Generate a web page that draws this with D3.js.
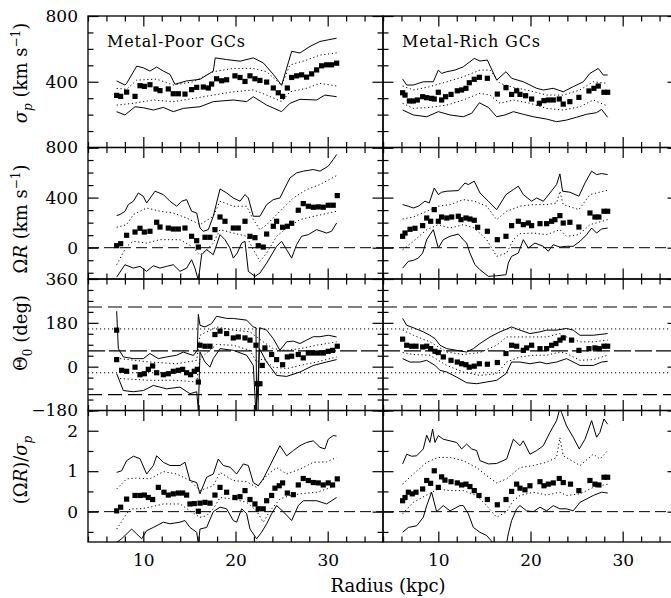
<!DOCTYPE html>
<html><head><meta charset="utf-8">
<script src="https://cdn.jsdelivr.net/npm/d3@7"></script>
<style>
body{margin:0;background:#fff;}
svg{display:block;}
text{font-family:"DejaVu Serif",serif;fill:#000;}
</style>
</head><body><svg id="c" width="671" height="598"></svg>
<script>
// ---------------- DATA ----------------
const panelTitles = ["Metal-Poor GCs", "Metal-Rich GCs"];
const yTitles = ["σp", "ΩR", "Θ0", "ratio"];
const xTickLabels = [10, 20, 30];
const yLabelRows = [[400, 800], [0, 400, 800], [-180, 0, 180, 360], [0, 1, 2]];
const thetaRef = [65];          // kinematic axis (deg)
const thetaDashed = [245, -115]; // axis ±180
const thetaDotted = [155, -25];  // axis ±90

// Row 1: sigma_p (km/s)
const mpSigma = [[7.11,317],[7.54,311],[8.19,337],[9.10,311],[9.64,376],[10.11,372],[10.72,382],[11.38,356],[11.81,346],[12.71,356],[13.25,327],[13.8,327],[14.52,325],[15.24,352],[15.79,366],[16.51,368],[17.05,362],[17.41,386],[17.95,418],[18.5,406],[19.04,412],[19.94,436],[20.49,426],[21.03,402],[21.57,436],[22.11,418],[22.65,408],[23.38,398],[24.10,362],[24.64,333],[25.11,311],[25.62,362],[26.09,426],[26.63,436],[27.17,442],[27.71,428],[28.26,448],[28.8,472],[29.34,497],[29.88,503],[30.42,503],[30.97,513]];
const mpSigHi95 = [[7.11,405],[8.01,380],[8.19,390],[9.28,495],[10.0,485],[10.72,465],[11.45,490],[12.17,465],[12.89,445],[13.43,385],[14.7,405],[16.15,415],[17.59,465],[17.8,545],[19.04,535],[20.49,525],[21.93,545],[23.01,515],[24.10,445],[25.0,378],[26.09,585],[26.99,575],[28.08,615],[29.16,645],[30.06,655],[30.97,665]];
const mpSigLo95 = [[7.11,218],[8.01,198],[9.10,248],[10.0,242],[11.09,228],[12.17,244],[13.25,218],[14.34,238],[16.15,248],[17.59,279],[19.76,289],[21.21,279],[21.93,309],[23.38,258],[25.0,218],[25.91,269],[26.99,293],[28.8,289],[29.7,319],[30.97,309]];
const mpSigHi68 = [[7.11,360],[8.19,354],[9.28,410],[11.45,416],[13.25,380],[15.42,400],[17.59,461],[19.76,481],[21.93,481],[23.38,461],[25.0,380],[25.91,502],[27.71,532],[29.16,562],[30.97,576]];
const mpSigLo68 = [[7.11,258],[8.92,269],[11.09,289],[13.25,279],[16.15,305],[17.59,319],[19.76,339],[21.93,350],[23.38,319],[25.0,279],[25.91,339],[27.71,360],[29.16,390],[30.97,374]];

const mrSigma = [[6.13,333],[6.39,319],[6.86,283],[7.29,283],[7.72,289],[8.30,309],[8.74,303],[9.27,299],[9.56,295],[10.0,336],[10.36,289],[10.79,309],[11.38,323],[12.06,345],[12.53,350],[13.0,360],[13.36,394],[13.9,415],[14.45,427],[15.32,421],[16.4,325],[17.34,364],[17.95,323],[18.5,345],[18.86,323],[19.47,315],[20.12,295],[20.96,269],[21.46,285],[21.93,289],[22.47,289],[23.12,295],[23.55,264],[24.27,279],[25.25,305],[26.34,344],[26.88,360],[27.35,374],[27.97,336],[28.37,336]];
const mrSigHi95 = [[6.13,416],[6.57,380],[7.29,380],[8.37,400],[9.46,400],[10.0,471],[10.36,451],[10.92,461],[11.81,471],[12.71,491],[13.9,542],[14.52,526],[15.32,532],[16.33,410],[17.34,461],[17.95,421],[19.22,400],[20.67,360],[21.39,350],[22.47,360],[23.55,339],[24.63,370],[25.73,400],[26.45,451],[27.35,481],[27.89,441],[28.37,441]];
const mrSigLo95 = [[6.13,228],[7.29,198],[8.74,187],[10.0,218],[11.27,198],[12.71,187],[13.62,208],[14.45,272],[15.43,244],[16.33,187],[17.23,198],[18.14,218],[19.22,202],[20.3,187],[21.75,173],[22.83,157],[23.91,167],[24.99,184],[26.09,202],[27.17,212],[27.71,232],[28.37,184]];
const mrSigHi68 = [[6.13,374],[7.29,350],[9.09,370],[10.92,400],[12.71,430],[14.52,471],[15.61,471],[16.69,390],[18.14,366],[19.94,345],[21.75,319],[23.55,319],[25.37,350],[26.81,400],[28.37,390]];
const mrSigLo68 = [[6.13,269],[7.29,238],[9.09,244],[10.92,258],[12.71,289],[14.52,330],[15.61,319],[16.69,269],[18.14,289],[19.94,269],[21.75,238],[23.55,228],[25.37,248],[26.81,289],[28.37,252]];

// Row 2: Omega R (km/s)
const mpOmega = [[7.11,16],[7.54,32],[8.19,99],[9.10,125],[9.64,155],[10.11,125],[10.72,131],[11.45,203],[11.81,165],[12.71,157],[13.25,149],[13.8,149],[14.52,157],[15.24,91],[15.79,56],[15.97,5],[16.69,83],[17.23,83],[17.77,144],[18.32,245],[18.86,211],[19.76,157],[20.3,157],[21.03,211],[21.57,91],[22.11,80],[22.47,16],[23.01,5],[23.38,109],[24.10,171],[24.46,211],[25.11,163],[25.62,171],[26.09,195],[26.81,299],[27.35,352],[27.9,331],[28.44,323],[28.98,326],[29.52,323],[30.06,339],[30.6,339],[31.04,416]];
const mpOmHi95 = [[7.11,256],[7.47,265],[8.01,290],[8.37,344],[8.92,371],[9.46,437],[10.0,410],[10.36,357],[11.27,451],[12.17,424],[12.89,371],[13.62,331],[14.16,371],[14.7,384],[15.24,291],[15.79,277],[16.15,157],[16.51,131],[17.05,144],[17.59,251],[18.32,469],[19.04,437],[19.76,397],[20.49,371],[21.03,424],[21.39,397],[21.93,251],[22.65,251],[23.38,344],[24.10,384],[24.82,397],[25.36,477],[25.91,557],[26.63,597],[27.35,611],[28.44,624],[29.16,611],[30.06,651],[30.6,704],[30.97,744]];
const mpOmLo95 = [[7.11,-235],[8.01,-136],[8.92,-163],[9.64,-149],[10.36,-189],[11.09,-144],[11.81,-163],[12.53,-149],[13.25,-136],[13.98,-189],[14.7,-163],[15.24,-96],[15.6,-163],[15.97,-260],[16.33,-56],[16.87,-16],[17.59,-56],[18.32,104],[18.86,64],[19.40,-3],[19.76,-83],[20.19,-43],[20.67,37],[21.03,51],[21.39,-189],[22.11,-229],[22.65,-203],[23.38,-123],[24.46,11],[25.0,51],[25.55,-16],[26.09,-83],[26.63,24],[27.17,91],[27.9,104],[28.8,144],[29.88,117],[30.42,131],[30.97,197]];
const mpOmHi68 = [[7.11,163],[8.19,184],[8.92,264],[10.36,317],[11.81,291],[13.25,277],[14.7,237],[16.15,184],[17.59,251],[18.32,371],[19.76,331],[21.21,331],[21.93,224],[22.65,144],[23.38,184],[24.82,291],[26.27,397],[27.71,464],[29.16,504],[30.97,576]];
const mpOmLo68 = [[7.11,-136],[8.19,11],[8.92,51],[10.36,37],[11.81,64],[13.98,64],[15.24,11],[16.15,-56],[16.87,-16],[17.59,37],[18.32,144],[19.76,117],[21.21,91],[21.93,-16],[22.65,-109],[23.38,-43],[24.46,91],[25.55,157],[26.99,224],[28.8,256],[30.97,291]];

const mrOmega = [[6.13,91],[6.39,117],[6.93,147],[7.47,155],[8.30,176],[8.74,237],[9.17,211],[9.56,304],[10.0,211],[10.36,245],[10.92,237],[11.45,245],[12.17,251],[12.46,224],[13.0,237],[13.43,229],[13.9,219],[14.27,163],[15.32,131],[16.4,64],[17.34,91],[17.95,176],[18.68,211],[19.22,184],[19.76,197],[20.12,176],[21.03,192],[21.75,192],[22.29,211],[22.65,224],[23.19,256],[23.55,197],[24.27,203],[25.25,165],[26.45,277],[26.99,245],[27.42,245],[27.97,291],[28.37,291]];
const mrOmHi95 = [[6.13,344],[6.75,331],[7.29,317],[7.83,331],[8.55,371],[9.02,357],[9.56,477],[10.0,424],[10.36,443],[10.92,451],[12.17,456],[12.89,517],[13.25,504],[13.9,531],[14.52,437],[15.43,371],[16.33,304],[17.34,424],[18.14,464],[18.68,491],[19.22,424],[20.12,371],[20.67,397],[21.39,371],[22.11,437],[22.83,504],[23.19,589],[23.48,451],[24.27,443],[25.25,411],[25.91,517],[26.63,611],[27.17,584],[27.71,592],[28.37,584]];
const mrOmLo95 = [[6.13,-163],[6.75,-109],[7.29,-101],[7.83,-83],[8.30,-43],[8.74,64],[9.09,104],[9.46,144],[10.0,-3],[10.54,64],[11.27,91],[12.17,109],[12.71,64],[13.07,37],[13.43,-43],[13.98,-136],[14.52,-176],[15.43,-229],[16.33,-224],[17.34,-216],[17.59,-123],[17.95,-69],[18.68,-43],[19.22,64],[19.76,-3],[20.48,37],[21.39,11],[21.93,-29],[22.47,24],[23.19,5],[23.91,11],[24.63,11],[25.37,51],[26.09,104],[26.63,157],[27.17,117],[27.71,149],[28.37,157]];
const mrOmHi68 = [[6.13,229],[7.29,245],[8.74,291],[10.0,331],[11.27,344],[12.71,384],[13.9,371],[15.25,331],[16.33,224],[17.41,291],[18.86,331],[20.3,344],[21.75,344],[22.83,357],[23.19,451],[23.55,344],[25.25,304],[26.45,424],[28.37,459]];
const mrOmLo68 = [[6.13,-16],[7.29,51],[8.74,144],[10.0,184],[11.27,157],[12.71,184],[13.9,157],[15.25,64],[16.33,-69],[17.41,-43],[18.14,64],[18.86,112],[20.3,117],[21.75,104],[23.19,144],[23.91,91],[25.25,104],[26.45,184],[28.37,224]];

// Row 3: Theta_0 (deg)
const mpTheta = [[7.11,150],[7.11,29],[7.65,-15],[8.19,-19],[9.10,-2],[9.64,-33],[10.11,-29],[10.54,-11],[11.01,3],[11.45,-25],[12.17,-33],[12.71,-29],[13.25,-19],[13.8,-15],[14.27,-11],[14.7,-25],[15.13,-33],[15.53,-19],[15.86,-11],[15.97,-63],[16.15,88],[16.69,84],[17.23,84],[17.77,132],[18.32,146],[19.04,136],[19.76,118],[20.3,122],[21.03,118],[21.57,109],[22.22,88],[22.37,-70],[22.65,-70],[22.9,5],[23.19,77],[23.92,50],[24.46,29],[25.11,8],[25.62,40],[26.09,43],[26.81,50],[27.35,36],[27.9,56],[28.44,56],[28.98,56],[29.52,56],[30.06,63],[30.53,67],[31.04,84]];
const mpThHi95 = [[7.11,228],[7.29,74],[7.83,40],[8.92,33],[10.0,33],[10.72,54],[11.63,33],[12.53,40],[13.62,47],[14.34,60],[15.42,46],[15.86,67],[15.97,215],[16.15,170],[16.69,163],[17.41,177],[17.95,207],[19.04,198],[19.76,198],[21.21,191],[21.93,163],[22.22,160],[22.3,-180],[22.45,-180],[22.6,160],[23.38,150],[24.10,115],[24.82,67],[25.55,102],[26.27,105],[26.99,95],[27.71,109],[28.44,123],[29.16,123],[30.06,129],[30.97,122]];
const mpThLo95 = [[7.11,-29],[7.47,-63],[7.83,-98],[8.92,-103],[10.0,-98],[11.09,-77],[12.53,-91],[13.98,-84],[15.06,-111],[15.79,-103],[15.97,-180],[16.15,60],[16.69,19],[17.23,-2],[17.59,33],[18.32,74],[19.76,67],[21.21,47],[21.93,5],[22.2,-180],[22.37,-120],[22.6,74],[23.38,19],[24.46,-36],[25.55,-40],[26.99,-22],[28.44,5],[29.88,19],[30.97,29]];
const mpThHi68 = [[7.47,33],[10.72,19],[13.62,12],[15.79,26],[16.15,129],[17.95,163],[19.76,150],[21.57,143],[22.29,122],[23.01,102],[24.10,74],[25.55,67],[26.99,74],[28.8,88],[30.97,102]];
const mpThLo68 = [[7.47,-49],[10.72,-56],[13.62,-56],[15.79,-63],[16.15,33],[17.95,91],[19.76,88],[21.57,67],[22.29,19],[23.01,33],[24.10,-2],[25.55,-8],[26.99,5],[28.8,19],[30.97,40]];

const mrTheta = [[6.13,113],[6.57,88],[7.11,84],[7.58,84],[8.30,81],[8.74,84],[9.17,74],[9.64,63],[10.0,58],[10.54,40],[11.38,26],[12.06,19],[12.53,12],[13.0,8],[13.36,-2],[13.9,2],[14.45,12],[15.32,10],[16.4,17],[17.34,54],[17.95,88],[18.5,84],[19.22,67],[19.58,77],[20.12,88],[21.03,74],[21.75,74],[22.29,88],[22.76,95],[23.19,109],[23.55,118],[24.45,109],[25.25,67],[26.34,74],[26.99,77],[27.46,74],[27.97,84],[28.37,84]];
const mrThHi95 = [[6.13,198],[6.57,170],[7.29,160],[8.37,143],[9.09,129],[9.64,115],[10.18,88],[10.92,74],[11.99,67],[13.07,60],[13.8,74],[14.52,95],[15.61,122],[16.69,143],[17.95,163],[18.86,150],[19.94,136],[21.03,143],[21.75,150],[22.83,150],[23.91,157],[24.63,150],[25.37,129],[26.81,129],[28.37,136]];
const mrThLo95 = [[6.13,33],[6.93,19],[8.01,19],[8.74,26],[9.64,5],[10.18,-15],[10.92,-22],[11.99,-43],[13.07,-66],[14.16,-70],[15.25,-63],[16.33,-56],[17.34,-29],[17.95,19],[18.86,19],[19.94,12],[21.03,19],[21.75,12],[22.83,19],[23.91,33],[25.37,5],[26.81,5],[27.71,19],[28.37,22]];
const mrThHi68 = [[6.13,150],[7.29,129],[9.09,102],[10.92,60],[12.71,50],[14.52,58],[16.33,88],[17.41,122],[18.86,122],[20.3,122],[21.75,122],[23.19,136],[23.91,122],[25.37,102],[26.81,102],[28.37,109]];
const mrThLo68 = [[6.13,58],[7.29,50],[9.09,47],[10.92,5],[12.71,-22],[14.52,-36],[16.33,-29],[17.41,19],[18.86,40],[20.3,47],[21.75,47],[23.19,60],[23.91,54],[25.37,26],[26.81,29],[28.37,47]];

// Row 4: (Omega R)/sigma_p
const mpRatio = [[7.11,0.02],[7.54,0.11],[8.19,0.31],[9.10,0.40],[9.64,0.40],[10.11,0.41],[10.54,0.35],[11.01,0.30],[11.63,0.60],[12.24,0.48],[12.71,0.41],[13.25,0.44],[13.8,0.46],[14.27,0.46],[14.7,0.41],[15.06,0.19],[15.53,0.20],[15.97,0.01],[16.15,0.21],[16.69,0.23],[17.23,0.21],[17.77,0.41],[18.32,0.60],[19.04,0.48],[19.94,0.35],[20.49,0.37],[21.03,0.52],[21.57,0.30],[22.11,0.19],[22.47,0.07],[23.01,0.07],[23.38,0.27],[23.92,0.40],[24.28,0.58],[24.75,0.64],[25.11,0.71],[25.62,0.46],[26.27,0.42],[26.81,0.66],[27.35,0.82],[27.9,0.77],[28.44,0.72],[28.98,0.71],[29.52,0.66],[30.06,0.71],[30.53,0.66],[31.04,0.81]];
const mpRaHi95 = [[7.11,0.97],[7.65,1.01],[8.19,1.26],[8.92,1.37],[9.64,1.31],[10.36,0.93],[11.09,1.14],[11.45,1.38],[12.17,1.22],[12.89,1.14],[13.98,1.14],[14.52,1.22],[15.06,0.77],[15.79,0.72],[16.15,0.44],[16.87,0.85],[17.59,0.93],[18.13,1.30],[18.68,1.14],[19.4,1.10],[20.12,0.93],[20.85,1.18],[21.39,1.14],[21.93,0.72],[22.47,0.64],[23.01,0.81],[23.74,1.14],[24.82,1.63],[25.55,1.38],[26.27,1.51],[26.99,1.63],[27.71,1.71],[28.44,1.75],[29.16,1.59],[29.7,1.55],[30.06,1.79],[30.6,1.88],[30.97,1.87]];
const mpRaLo95 = [[7.11,-0.76],[7.65,-0.67],[8.74,-0.43],[9.28,-0.55],[9.82,-0.67],[10.36,-0.47],[11.09,-0.39],[12.17,-0.26],[12.89,-0.30],[13.98,-0.26],[14.52,-0.22],[15.06,-0.39],[15.79,-0.51],[15.97,-0.8],[16.15,-0.43],[16.87,-0.39],[17.59,0.0],[18.32,0.11],[19.04,0.07],[19.76,-0.22],[20.12,-0.26],[20.67,0.07],[21.21,-0.05],[21.57,-0.43],[22.29,-0.67],[22.83,-0.51],[23.38,-0.30],[23.92,-0.05],[24.46,0.15],[25.18,0.0],[26.09,-0.22],[26.81,0.15],[27.35,0.27],[28.8,0.27],[29.88,0.19],[30.97,0.35]];
const mpRaHi68 = [[7.11,0.56],[8.19,0.81],[9.28,0.83],[10.72,0.81],[12.17,0.99],[13.62,0.93],[15.06,0.77],[16.15,0.52],[17.59,0.64],[18.32,0.97],[19.76,0.77],[21.21,0.74],[22.29,0.60],[23.38,0.89],[24.46,1.09],[25.55,0.93],[26.99,1.05],[28.44,1.22],[29.88,1.23],[30.97,1.34]];
const mpRaLo68 = [[7.11,-0.43],[7.83,-0.18],[8.56,0.07],[9.64,0.07],[10.72,0.11],[12.17,0.19],[13.98,0.19],[15.06,0.02],[16.15,-0.14],[16.87,-0.10],[17.59,0.07],[18.32,0.35],[19.76,0.31],[21.21,0.23],[22.29,0.02],[23.01,-0.26],[23.74,0.02],[24.82,0.31],[25.91,0.40],[26.99,0.44],[28.8,0.48],[30.97,0.64]];

const mrRatio = [[6.13,0.27],[6.39,0.35],[6.75,0.48],[7.18,0.44],[7.58,0.48],[8.30,0.56],[8.74,0.77],[9.17,0.70],[9.56,1.01],[10.0,0.60],[10.36,0.86],[10.72,0.78],[11.38,0.74],[12.06,0.71],[12.53,0.66],[13.0,0.68],[13.43,0.62],[13.9,0.52],[14.41,0.40],[15.32,0.30],[16.4,0.17],[17.34,0.30],[17.95,0.50],[18.5,0.68],[18.86,0.58],[19.4,0.54],[19.94,0.64],[21.03,0.74],[21.46,0.64],[21.93,0.68],[22.47,0.71],[23.12,0.82],[23.55,0.72],[24.34,0.68],[25.25,0.52],[26.45,0.77],[26.99,0.68],[27.42,0.66],[27.97,0.85],[28.37,0.85]];
const mrRaHi95 = [[6.13,1.18],[6.57,1.42],[7.11,1.37],[7.65,1.38],[8.37,1.55],[8.74,1.89],[9.09,1.71],[9.38,2.04],[9.64,1.71],[10.0,1.88],[10.54,1.79],[11.27,1.75],[11.99,1.71],[12.53,1.55],[13.07,1.67],[13.62,1.55],[14.16,1.51],[14.52,1.26],[15.43,1.18],[16.33,1.19],[17.41,1.30],[18.14,1.79],[18.86,1.63],[19.22,1.75],[19.94,1.42],[20.67,1.51],[21.39,1.63],[22.11,1.96],[22.83,2.25],[23.19,2.55],[23.37,2.45],[23.91,2.12],[24.63,1.84],[25.29,1.55],[25.91,1.79],[26.63,2.25],[27.17,1.84],[27.53,1.96],[27.97,2.29],[28.37,2.16]];
const mrRaLo95 = [[6.13,-0.51],[6.75,-0.39],[7.65,-0.35],[8.37,-0.14],[8.74,0.15],[9.27,0.48],[9.82,0.0],[10.54,0.15],[11.27,0.02],[12.35,0.15],[12.71,0.15],[13.25,-0.05],[13.8,-0.39],[14.52,-0.51],[15.25,-0.59],[15.97,-0.78],[17.41,-0.78],[17.59,-0.55],[17.95,-0.22],[18.5,0.07],[18.86,0.15],[19.58,0.02],[20.3,0.0],[21.03,0.11],[21.75,0.02],[22.47,0.15],[23.19,0.07],[23.91,0.07],[24.63,0.02],[25.37,0.23],[26.81,0.40],[27.71,0.48],[28.37,0.46]];
const mrRaHi68 = [[6.13,0.68],[7.29,0.93],[8.74,1.22],[10.0,1.34],[11.27,1.34],[12.71,1.26],[14.16,1.09],[15.25,0.89],[16.33,0.71],[17.41,0.81],[18.86,1.09],[20.3,1.14],[21.75,1.22],[22.83,1.34],[23.19,1.83],[23.55,1.38],[25.37,1.14],[26.81,1.42],[27.53,1.30],[28.37,1.51]];
const mrRaLo68 = [[6.13,-0.05],[7.29,0.23],[8.74,0.41],[10.0,0.56],[11.27,0.52],[12.71,0.52],[14.16,0.40],[15.25,0.15],[16.33,-0.14],[17.41,0.0],[18.14,0.27],[18.86,0.40],[20.3,0.48],[21.75,0.41],[23.19,0.48],[23.91,0.40],[25.37,0.44],[26.81,0.60],[28.37,0.68]];

// ---------------- LAYOUT ----------------
const svg = d3.select("#c");
const colX = [[88, 383], [383, 678]];
const rowTop = [16, 147.5, 279, 410.5];
const rowH = 131.5;
const xDomain = [4, 36];
const rowCfg = [
  {domain: [0, 800], minor: 100, major: 400},
  {domain: [-250, 800], minor: 100, major: 400},
  {domain: [-180, 360], minor: 45, major: 180},
  {domain: [-0.75, 2.5], minor: 0.5, major: 1}
];
const panels = [
  [{sq: mpSigma, hi95: mpSigHi95, lo95: mpSigLo95, hi68: mpSigHi68, lo68: mpSigLo68},
   {sq: mrSigma, hi95: mrSigHi95, lo95: mrSigLo95, hi68: mrSigHi68, lo68: mrSigLo68}],
  [{sq: mpOmega, hi95: mpOmHi95, lo95: mpOmLo95, hi68: mpOmHi68, lo68: mpOmLo68},
   {sq: mrOmega, hi95: mrOmHi95, lo95: mrOmLo95, hi68: mrOmHi68, lo68: mrOmLo68}],
  [{sq: mpTheta, hi95: mpThHi95, lo95: mpThLo95, hi68: mpThHi68, lo68: mpThLo68},
   {sq: mrTheta, hi95: mrThHi95, lo95: mrThLo95, hi68: mrThHi68, lo68: mrThLo68}],
  [{sq: mpRatio, hi95: mpRaHi95, lo95: mpRaLo95, hi68: mpRaHi68, lo68: mpRaLo68},
   {sq: mrRatio, hi95: mrRaHi95, lo95: mrRaLo95, hi68: mrRaHi68, lo68: mrRaLo68}]
];

const defs = svg.append("defs");
const isMajor = (v, m) => Math.abs(v / m - Math.round(v / m)) < 1e-6;

for (let r = 0; r < 4; r++) {
  for (let c = 0; c < 2; c++) {
    const cfg = rowCfg[r];
    const x0 = colX[c][0], x1 = colX[c][1];
    const y0 = rowTop[r], y1 = rowTop[r] + rowH;
    const x = d3.scaleLinear().domain(xDomain).range([x0, x1]);
    const y = d3.scaleLinear().domain(cfg.domain).range([y1, y0]);
    const id = "clip" + r + c;
    defs.append("clipPath").attr("id", id).append("rect")
      .attr("x", x0).attr("y", y0).attr("width", x1 - x0).attr("height", rowH);
    const g = svg.append("g");
    const gc = g.append("g").attr("clip-path", "url(#" + id + ")");

    // reference lines
    const hline = (v, dash, w) => gc.append("line")
      .attr("x1", x0).attr("x2", x1).attr("y1", y(v)).attr("y2", y(v))
      .attr("stroke", "#000").attr("stroke-width", w || 1)
      .attr("stroke-dasharray", dash);
    if (r === 1 || r === 3) hline(0, "11,5", 1);
    if (r === 2) {
      thetaDashed.forEach(v => hline(v, "14,6", 1.1));
      thetaRef.forEach(v => hline(v, "17,4", 1.1));
      thetaDotted.forEach(v => hline(v, "1.2,2.8", 1));
    }

    const p = panels[r][c];
    const line = d3.line().x(d => x(d[0])).y(d => y(d[1]));
    [["hi95", null], ["lo95", null], ["hi68", "1.2,2.6"], ["lo68", "1.2,2.6"]].forEach(([k, dash]) => {
      gc.append("path").attr("d", line(p[k])).attr("fill", "none")
        .attr("stroke", "#000").attr("stroke-width", 1)
        .attr("stroke-dasharray", dash);
    });
    gc.selectAll("rect.sq").data(p.sq).join("rect").attr("class", "sq")
      .attr("x", d => x(d[0]) - 2.6).attr("y", d => y(d[1]) - 2.6)
      .attr("width", 5.2).attr("height", 5.2).attr("fill", "#000");

    // frame
    g.append("rect").attr("x", x0).attr("y", y0).attr("width", x1 - x0).attr("height", rowH)
      .attr("fill", "none").attr("stroke", "#000").attr("stroke-width", 1.3);

    // ticks via d3 axes (inward)
    const xt = d3.range(4, 36.01, 2);
    const xMinor = xt.filter(v => !isMajor(v, 10)), xMajor = xt.filter(v => isMajor(v, 10));
    const yt = d3.range(Math.ceil(cfg.domain[0] / cfg.minor) * cfg.minor, cfg.domain[1] + 1e-9, cfg.minor);
    const yMinor = yt.filter(v => !isMajor(v, cfg.major)), yMajor = yt.filter(v => isMajor(v, cfg.major));
    const addAxis = (axis, tr) => {
      const a = g.append("g").attr("transform", tr).call(axis);
      a.select(".domain").remove();
      a.selectAll("text").remove();
      a.selectAll("line").attr("stroke-width", 1.2);
    };
    [[xMinor, 5.5], [xMajor, 10.5]].forEach(([vals, len]) => {
      addAxis(d3.axisBottom(x).tickValues(vals).tickSize(-len), `translate(0,${y1})`);
      addAxis(d3.axisTop(x).tickValues(vals).tickSize(-len), `translate(0,${y0})`);
    });
    [[yMinor, 5.5], [yMajor, 10.5]].forEach(([vals, len]) => {
      addAxis(d3.axisLeft(y).tickValues(vals).tickSize(-len), `translate(${x0},0)`);
      addAxis(d3.axisRight(y).tickValues(vals).tickSize(-len), `translate(${x1},0)`);
    });

    // labels
    if (c === 0) {
      const ya = g.append("g").attr("transform", `translate(${x0},0)`)
        .call(d3.axisLeft(y).tickValues(yLabelRows[r]).tickSize(0).tickPadding(10)
          .tickFormat(r === 3 ? d3.format("d") : d3.format("d")));
      ya.select(".domain").remove();
      ya.selectAll("text").attr("font-size", 17).attr("font-family", "DejaVu Serif");
    }
    if (r === 3) {
      const xa = g.append("g").attr("transform", `translate(0,${y1})`)
        .call(d3.axisBottom(x).tickValues(xTickLabels).tickSize(0).tickPadding(12));
      xa.select(".domain").remove();
      xa.selectAll("text").attr("font-size", 17).attr("font-family", "DejaVu Serif");
    }
    if (r === 0) {
      svg.append("text").attr("x", x0 + 19).attr("y", 47).attr("font-size", 16)
        .attr("textLength", 138).attr("lengthAdjust", "spacing")
        .text(panelTitles[c]);
    }
  }
}

// Y axis titles (rotated)
function ytitle(cy, build) {
  const t = svg.append("text").attr("transform", `translate(27,${cy}) rotate(-90)`)
    .attr("text-anchor", "middle").attr("font-size", 18);
  build(t);
}
ytitle(73, t => {
  t.append("tspan").attr("font-style", "italic").text("σ");
  t.append("tspan").attr("font-style", "italic").attr("font-size", 12).attr("dy", 5).text("p");
  t.append("tspan").attr("dy", -5).text(" (km s");
  t.append("tspan").attr("font-size", 12).attr("dy", -7).text("−1");
  t.append("tspan").attr("dy", 7).text(")");
});
ytitle(219, t => {
  t.append("tspan").text("Ω");
  t.append("tspan").attr("font-style", "italic").text("R");
  t.append("tspan").text(" (km s");
  t.append("tspan").attr("font-size", 12).attr("dy", -7).text("−1");
  t.append("tspan").attr("dy", 7).text(")");
});
ytitle(333, t => {
  t.append("tspan").text("Θ");
  t.append("tspan").attr("font-size", 12).attr("dy", 5).text("0");
  t.append("tspan").attr("dy", -5).text(" (deg)");
});
ytitle(470, t => {
  t.append("tspan").text("(Ω");
  t.append("tspan").attr("font-style", "italic").text("R");
  t.append("tspan").text(")/");
  t.append("tspan").attr("font-style", "italic").text("σ");
  t.append("tspan").attr("font-style", "italic").attr("font-size", 12).attr("dy", 5).text("p");
});

// X axis title
svg.append("text").attr("x", 388).attr("y", 592).attr("text-anchor", "middle")
  .attr("font-size", 18).text("Radius (kpc)");
</script>
</body></html>
